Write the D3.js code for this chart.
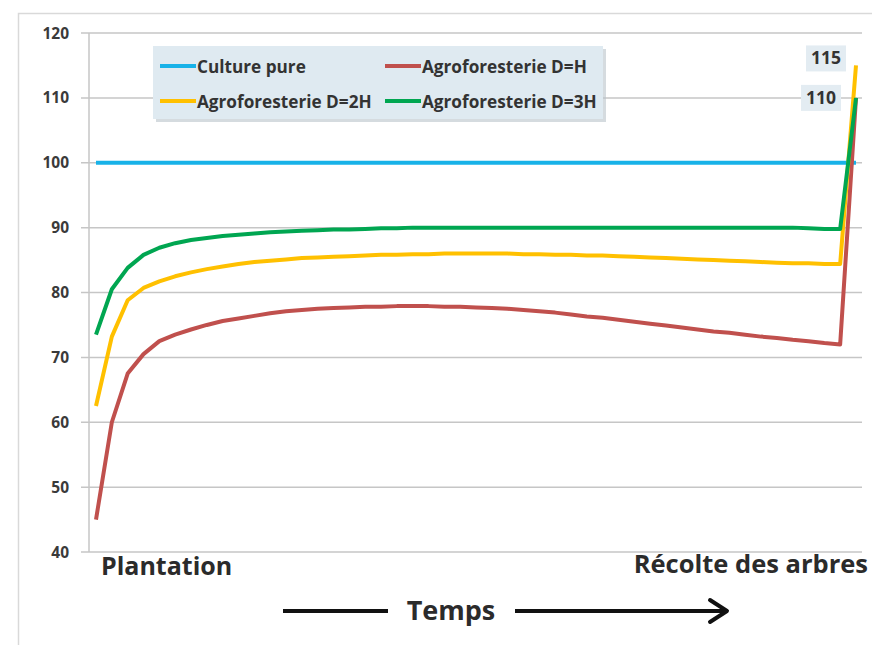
<!DOCTYPE html>
<html>
<head>
<meta charset="utf-8">
<script src="https://cdn.jsdelivr.net/npm/d3@7"></script>
<style>
  body { margin: 0; background: #fff; }
  svg { display: block; font-family: "Open Sans", sans-serif; }
</style>
</head>
<body>
<div id="chart"></div>
<script>
// values, one point per step in time
var seriesNames = ["Culture pure", "Agroforesterie D=H", "Agroforesterie D=2H", "Agroforesterie D=3H"];
var seriesColors = ["#18b2e8", "#c0504d", "#ffc000", "#00a651"];

var culturePure = [100,100,100,100,100,100,100,100,100,100,100,100,100,100,100,100,100,100,100,100,
  100,100,100,100,100,100,100,100,100,100,100,100,100,100,100,100,100,100,100,100,
  100,100,100,100,100,100,100,100,100];
var agroH = [45,60,67.5,70.5,72.5,73.5,74.3,75,75.6,76,76.4,76.8,77.1,77.3,77.5,77.6,77.7,77.8,77.8,77.9,
  77.9,77.9,77.8,77.8,77.7,77.6,77.5,77.3,77.1,76.9,76.6,76.3,76.1,75.8,75.5,75.2,74.9,74.6,74.3,74.0,
  73.8,73.5,73.2,73.0,72.7,72.5,72.2,72.0,110];
var agro2H = [62.5,73.2,78.8,80.7,81.7,82.5,83.1,83.6,84,84.4,84.7,84.9,85.1,85.3,85.4,85.5,85.6,85.7,85.8,85.8,
  85.9,85.9,86,86,86,86,86,85.9,85.9,85.8,85.8,85.7,85.7,85.6,85.5,85.4,85.3,85.2,85.1,85,
  84.9,84.8,84.7,84.6,84.5,84.5,84.4,84.4,115];
var agro3H = [73.5,80.5,83.8,85.8,86.9,87.6,88.1,88.4,88.7,88.9,89.1,89.3,89.4,89.5,89.6,89.7,89.7,89.8,89.9,89.9,
  90,90,90,90,90,90,90,90,90,90,90,90,90,90,90,90,90,90,90,90,
  90,90,90,90,90,89.9,89.8,89.8,110];

var yTicks = [40, 50, 60, 70, 80, 90, 100, 110, 120];
var endLabels = ["115", "110"];
var endValues = [115, 110];

var width = 872, height = 645;
var svg = d3.select("#chart").append("svg")
  .attr("width", width).attr("height", height);

// outer frame
svg.append("path")
  .attr("d", "M18.5,700 L18.5,13.5 L880,13.5")
  .attr("fill", "none").attr("stroke", "#d9d9d9").attr("stroke-width", 1.5);

var xScale = d3.scaleLinear().domain([0, culturePure.length - 1]).range([96, 856]);
var yScale = d3.scaleLinear().domain([40, 120]).range([552, 33]);

// grid lines + tick marks
svg.append("g").selectAll("line").data(yTicks).enter().append("line")
  .attr("x1", 81).attr("x2", 862)
  .attr("y1", function(d){ return yScale(d); })
  .attr("y2", function(d){ return yScale(d); })
  .attr("stroke", "#c6c6c6").attr("stroke-width", 1.5);

svg.append("line")
  .attr("x1", 89).attr("x2", 89)
  .attr("y1", yScale(120)).attr("y2", yScale(40))
  .attr("stroke", "#c6c6c6").attr("stroke-width", 1.5);

svg.append("g").selectAll("text").data(yTicks).enter().append("text")
  .attr("x", 69)
  .attr("y", function(d){ return yScale(d) + 5.5; })
  .attr("text-anchor", "end")
  .attr("font-size", 15.5).attr("font-weight", "bold").attr("fill", "#3a3a3a")
  .text(function(d){ return d; });

// series lines
var allSeries = [culturePure, agroH, agro2H, agro3H];
var line = d3.line()
  .x(function(d, i){ return xScale(i); })
  .y(function(d){ return yScale(d); });

svg.append("g").selectAll("path").data(allSeries).enter().append("path")
  .attr("d", line)
  .attr("fill", "none")
  .attr("stroke", function(d, i){ return seriesColors[i]; })
  .attr("stroke-width", 4)
  .attr("stroke-linejoin", "round");

// end value labels
var lbl = svg.append("g").selectAll("g").data(endLabels).enter().append("g")
  .attr("transform", function(d, i){
    return "translate(" + (i == 0 ? 826 : 821) + "," + (i == 0 ? yScale(endValues[i]) - 7 : yScale(endValues[i])) + ")";
  });
lbl.append("rect")
  .attr("x", -20).attr("y", -13).attr("width", 40).attr("height", 26)
  .attr("fill", "#e3ecf2");
lbl.append("text")
  .attr("y", 6).attr("text-anchor", "middle")
  .attr("font-size", 17.5).attr("font-weight", "bold").attr("fill", "#333")
  .text(function(d){ return d; });

// legend
var legend = svg.append("g");
legend.append("rect")
  .attr("x", 156).attr("y", 49).attr("width", 450).attr("height", 73)
  .attr("fill", "#b9c3c9").attr("opacity", 0.6);
legend.append("rect")
  .attr("x", 153).attr("y", 46).attr("width", 450).attr("height", 73)
  .attr("fill", "#dfeaf1");

var legPos = [[160, 66], [385, 66], [160, 101], [385, 101]];
var items = legend.selectAll("g.item").data(seriesNames).enter().append("g")
  .attr("transform", function(d, i){ return "translate(" + legPos[i][0] + "," + legPos[i][1] + ")"; });
items.append("line")
  .attr("x1", 0).attr("x2", 36).attr("y1", 0).attr("y2", 0)
  .attr("stroke", function(d, i){ return seriesColors[i]; })
  .attr("stroke-width", 4);
items.append("text")
  .attr("x", 37).attr("y", 6.5)
  .attr("font-size", 17.2).attr("font-weight", "bold").attr("fill", "#333")
  .text(function(d){ return d; });

// bottom annotations
svg.append("text")
  .attr("x", 101).attr("y", 575)
  .attr("font-size", 25).attr("font-weight", "bold").attr("fill", "#2b2b2b")
  .text("Plantation");
svg.append("text")
  .attr("x", 868).attr("y", 573).attr("text-anchor", "end")
  .attr("font-size", 25.5).attr("font-weight", "bold").attr("fill", "#2b2b2b")
  .text("Récolte des arbres");

svg.append("text")
  .attr("x", 451).attr("y", 620).attr("text-anchor", "middle")
  .attr("font-size", 27).attr("font-weight", "bold").attr("fill", "#2b2b2b")
  .text("Temps");

svg.append("line")
  .attr("x1", 283).attr("x2", 388).attr("y1", 611).attr("y2", 611)
  .attr("stroke", "#111").attr("stroke-width", 4);
svg.append("line")
  .attr("x1", 515).attr("x2", 726).attr("y1", 611).attr("y2", 611)
  .attr("stroke", "#111").attr("stroke-width", 4);
svg.append("path")
  .attr("d", "M710,600 L727,611 L710,622")
  .attr("fill", "none").attr("stroke", "#111").attr("stroke-width", 4)
  .attr("stroke-linejoin", "round").attr("stroke-linecap", "round");
</script>
</body>
</html>
